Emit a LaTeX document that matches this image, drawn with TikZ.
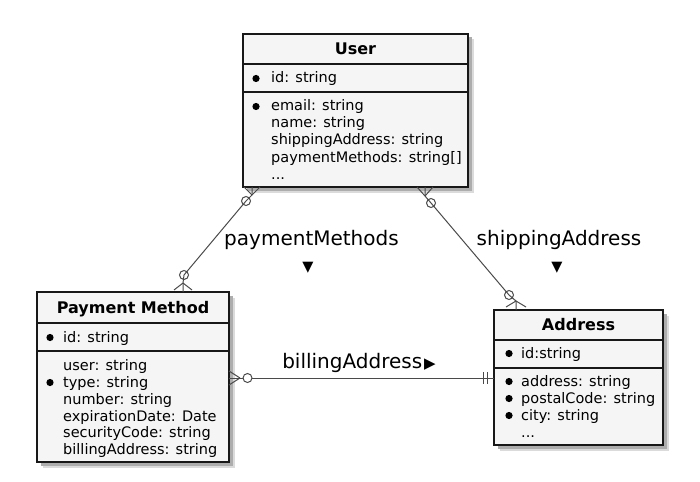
\documentclass[tikz,border=0pt]{standalone}
\usepackage{fontspec}
\setmainfont{DejaVu Sans}
\usetikzlibrary{calc,shadows}
\definecolor{entfill}{HTML}{F5F5F5}
\definecolor{entline}{HTML}{181818}
\definecolor{conncol}{HTML}{4A4A4A}
\tikzset{
  entity/.style={draw=entline, fill=entfill, line width=1.4pt, anchor=north west,
    inner sep=0pt, outer sep=0pt,
    drop shadow={shadow xshift=5.5pt, shadow yshift=-5.5pt, fill=black!14, opacity=1},
    drop shadow={shadow xshift=3.5pt, shadow yshift=-3.5pt, fill=black!32, opacity=1}},
  divider/.style={draw=entline, line width=1.2pt},
  etitle/.style={anchor=base, inner sep=0pt, font=\fontsize{16}{19}\bfseries\selectfont},
  erow/.style={anchor=base west, inner sep=0pt, font=\fontsize{14.5}{17}\selectfont},
  bulletdot/.style={circle, fill=black, inner sep=0pt, minimum size=7.2pt},
  conn/.style={draw=conncol, line width=1pt},
  ring/.style={draw=conncol, line width=1pt, fill=none},
  ringw/.style={draw=conncol, line width=1pt, fill=white},
  lbl/.style={anchor=base, inner sep=0pt, font=\fontsize{20}{24}\selectfont},
  lblarrow/.style={anchor=base, inner sep=0pt, font=\fontsize{14.5}{17}\selectfont}
}
\begin{document}
\begin{tikzpicture}[x=1pt,y=-1pt]
\useasboundingbox[fill=white] (0,0) rectangle (700,481);

% ---------- entities ----------
\node[entity, minimum width=225pt, minimum height=153pt] (user) at (243,34) {};
\node[entity, minimum width=192pt, minimum height=170pt] (pm) at (37,292) {};
\node[entity, minimum width=169pt, minimum height=135pt] (addr) at (494,310) {};

\draw[divider] ($(user.north west)+(0,30)$) -- ($(user.north east)+(0,30)$);
\draw[divider] ($(user.north west)+(0,58)$) -- ($(user.north east)+(0,58)$);
\draw[divider] ($(pm.north west)+(0,31)$) -- ($(pm.north east)+(0,31)$);
\draw[divider] ($(pm.north west)+(0,59)$) -- ($(pm.north east)+(0,59)$);
\draw[divider] ($(addr.north west)+(0,30)$) -- ($(addr.north east)+(0,30)$);
\draw[divider] ($(addr.north west)+(0,58)$) -- ($(addr.north east)+(0,58)$);

% User
\node[etitle] (utitle) at (355.5,55) {User};
\node[erow] (uid) at (271,83) {id: string};
\node[erow] (uemail) at (271,111) {email: string};
\node[erow] (uname) at (271,128) {name: string};
\node[erow] (uship) at (271,145) {shippingAddress: string};
\node[erow] (upay) at (271,162) {paymentMethods: string[]};
\node[erow] (udots) at (271,179) {...};
\node[bulletdot] (ub1) at (256,78.5) {};
\node[bulletdot] (ub2) at (256,106.5) {};

% Payment Method
\node[etitle] (ptitle) at (133,313) {Payment Method};
\node[erow] (pid) at (63,342) {id: string};
\node[erow] (puser) at (63,370) {user: string};
\node[erow] (ptype) at (63,387) {type: string};
\node[erow] (pnum) at (63,404) {number: string};
\node[erow] (pexp) at (63,421) {expirationDate: Date};
\node[erow] (psec) at (63,437.5) {securityCode: string};
\node[erow] (pbill) at (63,454) {billingAddress: string};
\node[bulletdot] (pb1) at (50,337.5) {};
\node[bulletdot] (pb2) at (50,382.5) {};

% Address
\node[etitle] (atitle) at (578.5,330) {Address};
\node[erow] (aid) at (521,358) {id:string};
\node[erow] (aaddr) at (521,386) {address: string};
\node[erow] (apost) at (521,403) {postalCode: string};
\node[erow] (acity) at (521,420) {city: string};
\node[erow] (adots) at (521,437) {...};
\node[bulletdot] (ab1) at (509,353.5) {};
\node[bulletdot] (ab2) at (509,381.5) {};
\node[bulletdot] (ab3) at (509,398.5) {};
\node[bulletdot] (ab4) at (509,415.5) {};

% ---------- connectors ----------
% User -- Payment Method
\coordinate (upE) at ($(user.south west)+(9,0)$);
\coordinate (upA) at ($(upE)+(0,8)$);
\coordinate (upC) at ($(upE)+(-6,14)$);
\coordinate (puE) at ($(pm.north west)+(146,0)$);
\coordinate (puA) at ($(puE)+(0,-9)$);
\coordinate (puC) at ($(puE)+(1,-17)$);
\draw[conn] (upE) -- (upA) -- (upC) -- (puC) -- (puA) -- (puE);
\draw[conn] (upA) -- ($(upE)+(-8,0)$) (upA) -- ($(upE)+(8,0)$);
\draw[conn] (puA) -- ($(puE)+(-9,-2)$) (puA) -- ($(puE)+(9,-2)$);
\draw[ring] (upC) circle[radius=4.5pt];
\draw[ring] (puC) circle[radius=4.5pt];

% User -- Address
\coordinate (uaE) at ($(user.south west)+(182,0)$);
\coordinate (uaA) at ($(uaE)+(0,9)$);
\coordinate (uaC) at ($(uaE)+(6,16)$);
\coordinate (auE) at ($(addr.north west)+(22,0)$);
\coordinate (auA) at ($(auE)+(0,-9)$);
\coordinate (auC) at ($(auE)+(-7,-15)$);
\draw[conn] (uaE) -- (uaA) -- (uaC) -- (auC) -- (auA) -- (auE);
\draw[conn] (uaA) -- ($(uaE)+(-8,0)$) (uaA) -- ($(uaE)+(8,0)$);
\draw[conn] (auA) -- ($(auE)+(-10,-3)$) (auA) -- ($(auE)+(10,-3)$);
\draw[ring] (uaC) circle[radius=4.5pt];
\draw[ring] (auC) circle[radius=4.5pt];

% Payment Method -- Address
\coordinate (pmE) at ($(pm.north east)+(0,86)$);
\coordinate (pmA) at ($(pmE)+(11,0)$);
\coordinate (pmC) at ($(pmE)+(18.5,0)$);
\coordinate (adE) at ($(addr.north west)+(0,68)$);
\draw[conn] (pmE) -- (adE);
\draw[conn] (pmA) -- ($(pmE)+(0,-7)$) (pmA) -- ($(pmE)+(0,7)$);
\draw[ringw] (pmC) circle[radius=4.5pt];
\draw[conn] ($(adE)+(-11,-6)$) -- ($(adE)+(-11,6)$);
\draw[conn] ($(adE)+(-7,-6)$) -- ($(adE)+(-7,6)$);

% ---------- labels ----------
\node[lbl] (lpm) at (311.5,245.5) {paymentMethods};
\node[lblarrow] (lpmarr) at (308,271) {▼};
\node[lbl] (lsa) at (559,245.5) {shippingAddress};
\node[lblarrow] (lsaarr) at (557,271) {▼};
\node[lbl] (lba) at (359,368) {billingAddress\kern2pt{\fontsize{15}{15}\selectfont▶}};
\end{tikzpicture}
\end{document}
